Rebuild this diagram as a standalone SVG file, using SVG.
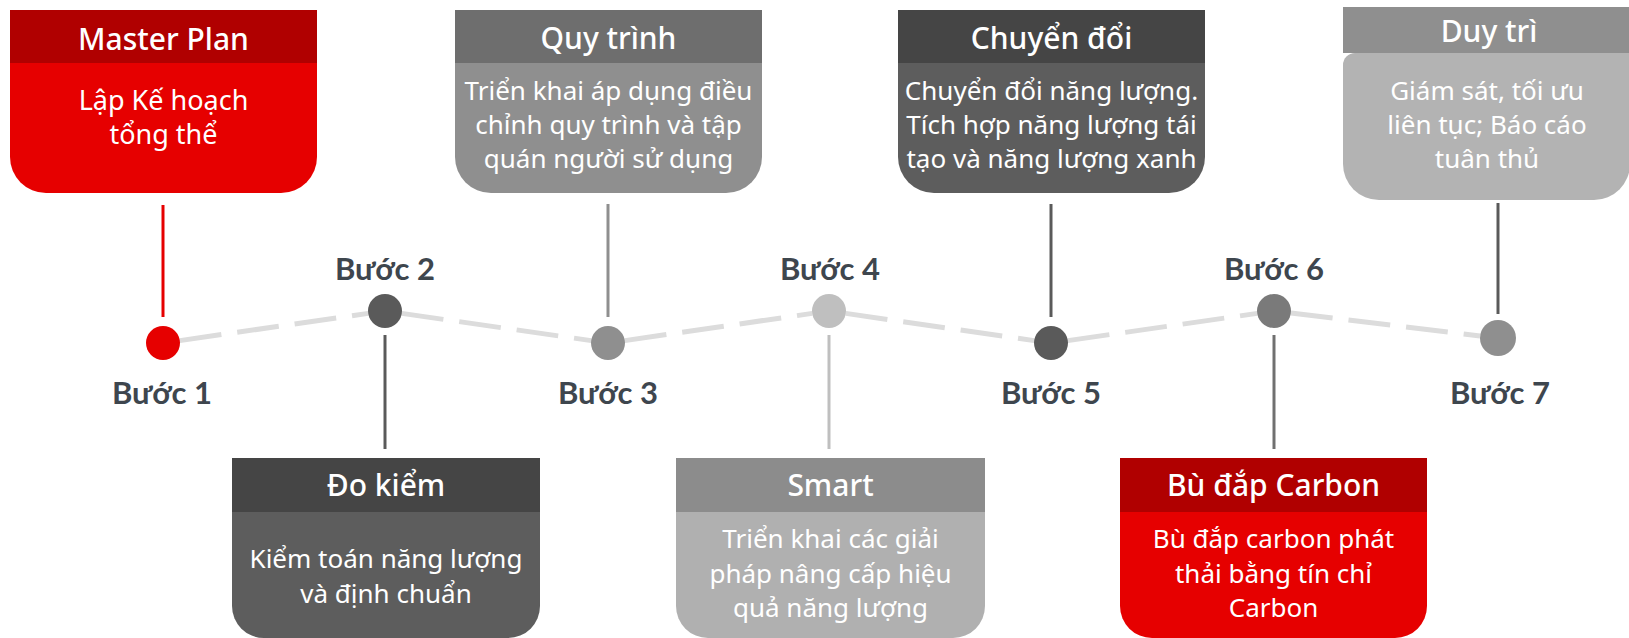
<svg xmlns="http://www.w3.org/2000/svg" width="1629" height="638" viewBox="0 0 1629 638">
<style>
.hd{font-family:"Noto Sans","Open Sans",sans-serif;font-size:30px;font-weight:500;fill:#fff;text-anchor:middle}
.bd{font-family:"Noto Sans","Open Sans",sans-serif;font-size:26px;fill:#fff;text-anchor:middle}
.lb{font-family:Lato,"Liberation Sans",sans-serif;font-size:31px;font-weight:700;fill:#3E464E;text-anchor:middle}
.dash{stroke:#DCDCDC;stroke-width:5;stroke-dasharray:42 16;fill:none}
.vl{stroke-width:3;fill:none}
</style>
<rect width="1629" height="638" fill="#fff"/>
<g id="connectors">
<line class="dash" x1="179.8" y1="340.6" x2="368.2" y2="313.4"/>
<line class="dash" x1="401.8" y1="313.4" x2="591.2" y2="340.6"/>
<line class="dash" x1="624.8" y1="340.6" x2="812.2" y2="313.4"/>
<line class="dash" x1="845.8" y1="313.4" x2="1034.2" y2="340.6"/>
<line class="dash" x1="1067.8" y1="340.6" x2="1257.2" y2="313.4"/>
<line class="dash" x1="1290.9" y1="313.0" x2="1480.1" y2="335.9"/>
<line class="vl" x1="163" y1="205" x2="163" y2="317" stroke="#E60000"/>
<line class="vl" x1="385" y1="335" x2="385" y2="449" stroke="#5A5A5A"/>
<line class="vl" x1="608" y1="204" x2="608" y2="317" stroke="#8F8F8F"/>
<line class="vl" x1="829" y1="335" x2="829" y2="449" stroke="#BFBFBF"/>
<line class="vl" x1="1051" y1="204" x2="1051" y2="317" stroke="#5A5A5A"/>
<line class="vl" x1="1274" y1="335" x2="1274" y2="449" stroke="#707070"/>
<line class="vl" x1="1498" y1="203" x2="1498" y2="314" stroke="#5A5A5A"/>
</g>
<g id="step1">
<circle cx="163" cy="343" r="17" fill="#E60000"/>
<text class="lb" x="162" y="404">Bước 1</text>
</g>
<g id="step2">
<circle cx="385" cy="311" r="17" fill="#5A5A5A"/>
<text class="lb" x="385" y="280">Bước 2</text>
</g>
<g id="step3">
<circle cx="608" cy="343" r="17" fill="#8F8F8F"/>
<text class="lb" x="608" y="404">Bước 3</text>
</g>
<g id="step4">
<circle cx="829" cy="311" r="17" fill="#BFBFBF"/>
<text class="lb" x="830" y="280">Bước 4</text>
</g>
<g id="step5">
<circle cx="1051" cy="343" r="17" fill="#5A5A5A"/>
<text class="lb" x="1051" y="404">Bước 5</text>
</g>
<g id="step6">
<circle cx="1274" cy="311" r="17" fill="#7A7A7A"/>
<text class="lb" x="1274" y="280">Bước 6</text>
</g>
<g id="step7">
<circle cx="1498" cy="338" r="18" fill="#8F8F8F"/>
<text class="lb" x="1500" y="404">Bước 7</text>
</g>
<g id="master-plan">
<path d="M10,63 H317 V157 A36 36 0 0 1 281,193 H46 A36 36 0 0 1 10,157 Z" fill="#E60000"/>
<rect x="10" y="10" width="307" height="53" fill="#B00000"/>
<text class="hd" x="163.5" y="50">Master Plan</text>
<text class="bd" x="163.5" y="110" style="font-size:27px">Lập Kế hoạch</text>
<text class="bd" x="163.5" y="144" style="font-size:27px">tổng thể</text>
</g>
<g id="quy-trinh">
<path d="M455,63 H762 V157 A36 36 0 0 1 726,193 H491 A36 36 0 0 1 455,157 Z" fill="#8F8F8F"/>
<rect x="455" y="10" width="307" height="53" fill="#6E6E6E"/>
<text class="hd" x="608.5" y="49">Quy trình</text>
<text class="bd" x="608.5" y="100">Triển khai áp dụng điều</text>
<text class="bd" x="608.5" y="134">chỉnh quy trình và tập</text>
<text class="bd" x="608.5" y="168">quán người sử dụng</text>
</g>
<g id="chuyen-doi">
<path d="M898,63 H1205 V157 A36 36 0 0 1 1169,193 H934 A36 36 0 0 1 898,157 Z" fill="#5D5D5D"/>
<rect x="898" y="10" width="307" height="53" fill="#454545"/>
<text class="hd" x="1051.5" y="49">Chuyển đổi</text>
<text class="bd" x="1051.5" y="100">Chuyển đổi năng lượng.</text>
<text class="bd" x="1051.5" y="134">Tích hợp năng lượng tái</text>
<text class="bd" x="1051.5" y="168">tạo và năng lượng xanh</text>
</g>
<g id="duy-tri">
<path d="M1343,65 A12 12 0 0 1 1355,53 H1630 V164 A36 36 0 0 1 1594,200 H1379 A36 36 0 0 1 1343,164 Z" fill="#B3B3B3"/>
<rect x="1343" y="7" width="287" height="46" fill="#8F8F8F"/>
<text class="hd" x="1489" y="42">Duy trì</text>
<text class="bd" x="1487" y="100" fill="#F4F4F4">Giám sát, tối ưu</text>
<text class="bd" x="1487" y="134" fill="#F4F4F4">liên tục; Báo cáo</text>
<text class="bd" x="1487" y="168" fill="#F4F4F4">tuân thủ</text>
</g>
<g id="do-kiem">
<path d="M232,512 H540 V606 A32 32 0 0 1 508,638 H264 A32 32 0 0 1 232,606 Z" fill="#5D5D5D"/>
<rect x="232" y="458" width="308" height="54" fill="#454545"/>
<text class="hd" x="386" y="496">Đo kiểm</text>
<text class="bd" x="386" y="568">Kiểm toán năng lượng</text>
<text class="bd" x="386" y="603">và định chuẩn</text>
</g>
<g id="smart">
<path d="M676,512 H985 V606 A32 32 0 0 1 953,638 H708 A32 32 0 0 1 676,606 Z" fill="#B0B0B0"/>
<rect x="676" y="458" width="309" height="54" fill="#8C8C8C"/>
<text class="hd" x="830.5" y="496">Smart</text>
<text class="bd" x="830.5" y="548">Triển khai các giải</text>
<text class="bd" x="830.5" y="583">pháp nâng cấp hiệu</text>
<text class="bd" x="830.5" y="617">quả năng lượng</text>
</g>
<g id="bu-dap-carbon">
<path d="M1120,512 H1427 V606 A32 32 0 0 1 1395,638 H1152 A32 32 0 0 1 1120,606 Z" fill="#E60000"/>
<rect x="1120" y="458" width="307" height="54" fill="#B00000"/>
<text class="hd" x="1273.5" y="496">Bù đắp Carbon</text>
<text class="bd" x="1273.5" y="548">Bù đắp carbon phát</text>
<text class="bd" x="1273.5" y="583">thải bằng tín chỉ</text>
<text class="bd" x="1273.5" y="617">Carbon</text>
</g>
</svg>
